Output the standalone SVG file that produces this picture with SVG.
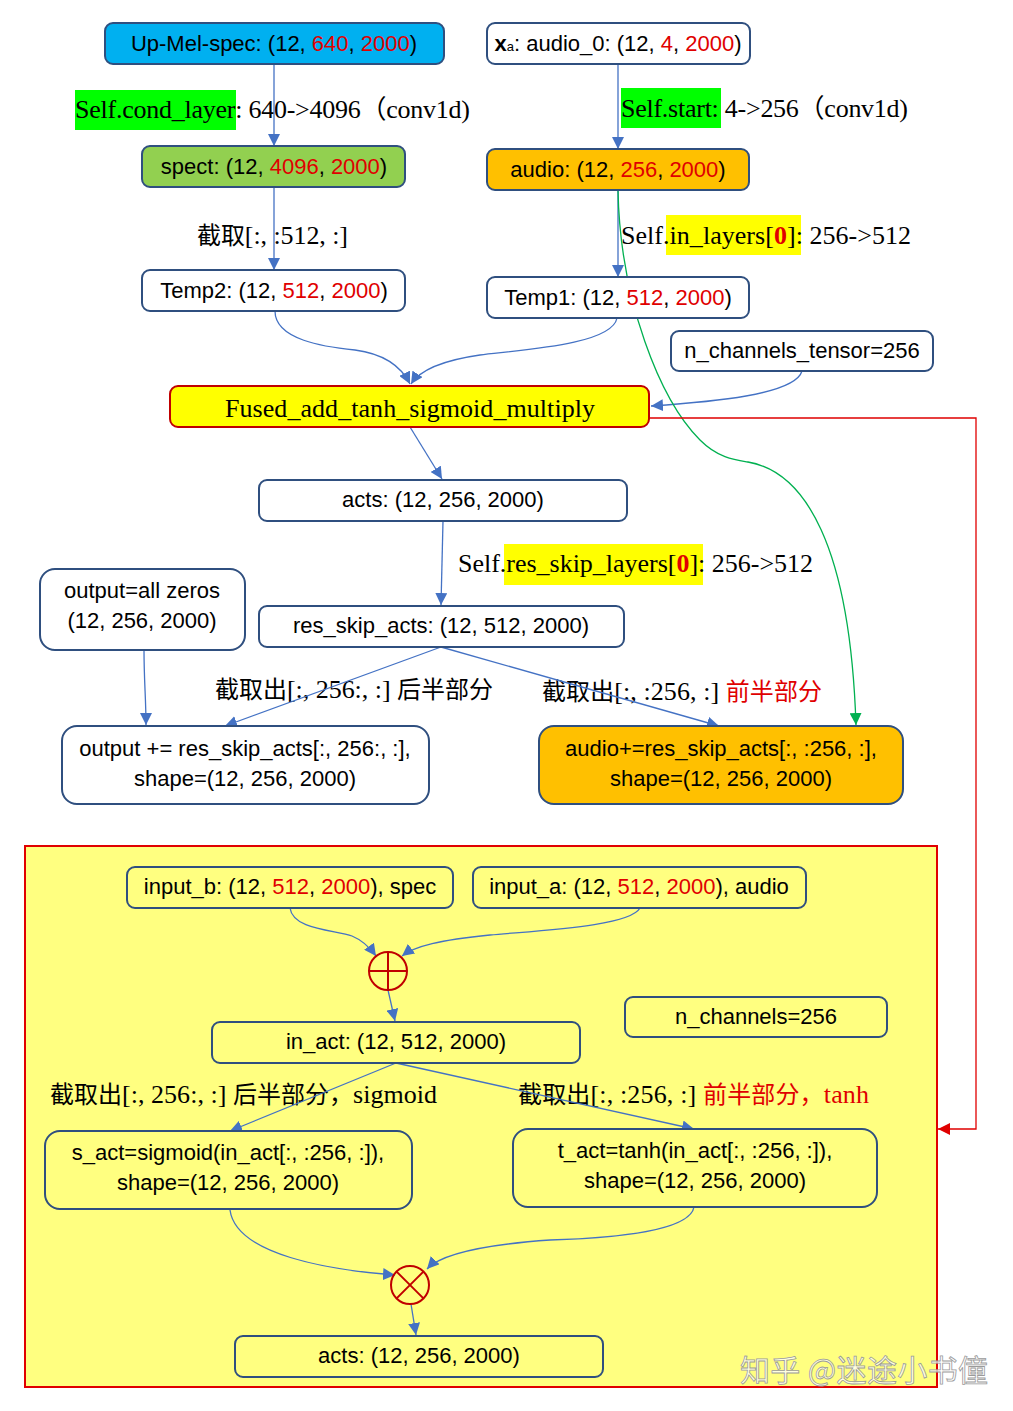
<svg xmlns="http://www.w3.org/2000/svg" width="1013" height="1411" viewBox="0 0 1013 1411">
<style>
.box{stroke:#2F4F7F;stroke-width:2;}
.w{fill:#ffffff;}
.t{font-family:"Liberation Sans",Arial,sans-serif;font-size:22px;fill:#000;}
.s{font-family:"Liberation Serif","Times New Roman","Noto Sans CJK SC",serif;font-size:26px;fill:#000;}
.c{font-family:"Liberation Serif","Noto Sans CJK SC",serif;font-size:26px;fill:#000;}
.k{font-family:"Noto Sans CJK SC",sans-serif;font-size:24px;}
.r{fill:#E00000;}
.conn{fill:none;stroke:#4472C4;stroke-width:1.3;}
.g{fill:none;stroke:#00B050;stroke-width:1.3;}
.red{fill:none;stroke:#E00000;stroke-width:1.3;}
.op{fill:none;stroke:#C00000;stroke-width:2;}
</style>
<defs>
<marker id="ab" viewBox="0 0 10 10" refX="10" refY="5" markerWidth="12" markerHeight="12" markerUnits="userSpaceOnUse" orient="auto"><path d="M0,0 L10,5 L0,10 z" fill="#4472C4"/></marker>
<marker id="ag" viewBox="0 0 10 10" refX="10" refY="5" markerWidth="12" markerHeight="12" markerUnits="userSpaceOnUse" orient="auto"><path d="M0,0 L10,5 L0,10 z" fill="#00B050"/></marker>
<marker id="ar" viewBox="0 0 10 10" refX="10" refY="5" markerWidth="12" markerHeight="12" markerUnits="userSpaceOnUse" orient="auto"><path d="M0,0 L10,5 L0,10 z" fill="#E00000"/></marker>
</defs>
<rect width="1013" height="1411" fill="#ffffff"/>

<!-- panel -->
<g id="panel">
<rect x="25" y="846" width="912" height="541" fill="#FFFF80" stroke="#E00000" stroke-width="2"/>
</g>

<!-- labels with highlights -->
<g id="labels">
<rect x="75" y="90" width="161" height="40" fill="#00FF00"/>
<text class="s" x="75" y="118" textLength="395" lengthAdjust="spacing">Self.cond_layer: 640-&gt;4096（conv1d)</text>
<rect x="621" y="88" width="100" height="40" fill="#00FF00"/>
<text class="s" x="621" y="117" textLength="287" lengthAdjust="spacing">Self.start: 4-&gt;256（conv1d)</text>
<text class="s" x="197" y="244" textLength="151" lengthAdjust="spacing"><tspan class="k">截取</tspan>[:, :512, :]</text>
<rect x="666" y="215" width="135" height="40" fill="#FFFF00"/>
<text class="s" x="621" y="244" textLength="290" lengthAdjust="spacing">Self.in_layers[<tspan fill="#E00000" font-weight="bold">0</tspan>]: 256-&gt;512</text>
<rect x="504" y="544" width="199" height="41" fill="#FFFF00"/>
<text class="s" x="458" y="572" textLength="355" lengthAdjust="spacing">Self.res_skip_layers[<tspan fill="#E00000" font-weight="bold">0</tspan>]: 256-&gt;512</text>
<text class="c" x="215" y="698" textLength="278" lengthAdjust="spacing"><tspan class="k">截取出</tspan>[:, 256:, :] <tspan class="k">后半部分</tspan></text>
<text class="c" x="542" y="700" textLength="280" lengthAdjust="spacing"><tspan class="k">截取出</tspan>[:, :256, :] <tspan class="k" fill="#E00000">前半部分</tspan></text>
<text class="c" x="50" y="1103" textLength="387" lengthAdjust="spacing"><tspan class="k">截取出</tspan>[:, 256:, :] <tspan class="k">后半部分，</tspan>sigmoid</text>
<text class="c" x="518" y="1103" textLength="351" lengthAdjust="spacing"><tspan class="k">截取出</tspan>[:, :256, :] <tspan fill="#E00000"><tspan class="k">前半部分，</tspan>tanh</tspan></text>
</g>

<!-- connectors -->
<g id="connectors">
<line class="conn" x1="274" y1="64" x2="274" y2="146" marker-end="url(#ab)"/>
<line class="conn" x1="274" y1="187" x2="274" y2="270" marker-end="url(#ab)"/>
<line class="conn" x1="618" y1="64" x2="618" y2="149" marker-end="url(#ab)"/>
<line class="conn" x1="618" y1="190" x2="618" y2="277" marker-end="url(#ab)"/>
<path class="conn" d="M275,311 C275,340 325,347 355,350 C385,354 402,368 410,384" marker-end="url(#ab)"/>
<path class="conn" d="M617,318 C612,345 520,350 480,355 C445,360 420,370 411,384" marker-end="url(#ab)"/>
<path class="conn" d="M802,371 C795,395 710,402 651,406" marker-end="url(#ab)"/>
<line class="conn" x1="410" y1="427" x2="442" y2="479" marker-end="url(#ab)"/>
<line class="conn" x1="443" y1="521" x2="441" y2="605" marker-end="url(#ab)"/>
<path class="conn" d="M144,650 C144,680 146,700 146,725" marker-end="url(#ab)"/>
<line class="conn" x1="441" y1="647" x2="225" y2="726" marker-end="url(#ab)"/>
<line class="conn" x1="441" y1="647" x2="719" y2="726" marker-end="url(#ab)"/>
<path class="g" d="M618,190 C620,300 660,400 700,440 C718,458 735,460 748,462 C805,472 850,545 856,725" marker-end="url(#ag)"/>
<polyline class="red" points="650,418 976,418 976,1129 938,1129" marker-end="url(#ar)"/>
<path class="conn" d="M290,908 C293,930 335,930 352,936 C364,941 371,949 376,956" marker-end="url(#ab)"/>
<path class="conn" d="M640,908 C630,926 545,930 490,935 C440,940 415,946 402,956" marker-end="url(#ab)"/>
<line class="conn" x1="388" y1="990" x2="395" y2="1021" marker-end="url(#ab)"/>
<line class="conn" x1="396" y1="1063" x2="230" y2="1131" marker-end="url(#ab)"/>
<line class="conn" x1="396" y1="1063" x2="694" y2="1129" marker-end="url(#ab)"/>
<path class="conn" d="M230,1210 C236,1255 330,1270 395,1275" marker-end="url(#ab)"/>
<path class="conn" d="M694,1207 C690,1230 620,1238 550,1240 C480,1245 440,1255 427,1269" marker-end="url(#ab)"/>
<line class="conn" x1="411" y1="1304" x2="416" y2="1335" marker-end="url(#ab)"/>
</g>

<!-- nodes -->
<g id="up-mel-spec">
<rect class="box" x="105" y="23" width="339" height="41" rx="8" fill="#00B0F0"/>
<text class="t" x="274" y="51" text-anchor="middle">Up-Mel-spec: (12, <tspan class="r">640</tspan>, <tspan class="r">2000</tspan>)</text>
</g>
<g id="xa">
<rect class="box w" x="487" y="23" width="263" height="41" rx="8"/>
<text class="t" x="618" y="51" text-anchor="middle"><tspan font-weight="bold">x</tspan><tspan font-size="13">a</tspan>: audio_0: (12, <tspan class="r">4</tspan>, <tspan class="r">2000</tspan>)</text>
</g>
<g id="spect">
<rect class="box" x="142" y="146" width="263" height="41" rx="8" fill="#92D050"/>
<text class="t" x="274" y="174" text-anchor="middle">spect: (12, <tspan class="r">4096</tspan>, <tspan class="r">2000</tspan>)</text>
</g>
<g id="audio">
<rect class="box" x="487" y="149" width="262" height="41" rx="8" fill="#FFC000"/>
<text class="t" x="618" y="177" text-anchor="middle">audio: (12, <tspan class="r">256</tspan>, <tspan class="r">2000</tspan>)</text>
</g>
<g id="temp2">
<rect class="box w" x="142" y="270" width="263" height="41" rx="8"/>
<text class="t" x="274" y="298" text-anchor="middle">Temp2: (12, <tspan class="r">512</tspan>, <tspan class="r">2000</tspan>)</text>
</g>
<g id="temp1">
<rect class="box w" x="487" y="277" width="262" height="41" rx="8"/>
<text class="t" x="618" y="305" text-anchor="middle">Temp1: (12, <tspan class="r">512</tspan>, <tspan class="r">2000</tspan>)</text>
</g>
<g id="n-channels-tensor">
<rect class="box w" x="671" y="331" width="262" height="40" rx="8"/>
<text class="t" x="802" y="358" text-anchor="middle">n_channels_tensor=256</text>
</g>
<g id="fused">
<rect x="170" y="386" width="479" height="41" rx="8" fill="#FFFF00" stroke="#C00000" stroke-width="2"/>
<text class="s" x="410" y="417" text-anchor="middle" textLength="370" lengthAdjust="spacing">Fused_add_tanh_sigmoid_multiply</text>
</g>
<g id="acts">
<rect class="box w" x="259" y="480" width="368" height="41" rx="8"/>
<text class="t" x="443" y="507" text-anchor="middle">acts: (12, 256, 2000)</text>
</g>
<g id="output-zeros">
<rect class="box w" x="40" y="569" width="205" height="81" rx="15"/>
<text class="t" x="142" y="598" text-anchor="middle">output=all zeros</text>
<text class="t" x="142" y="628" text-anchor="middle">(12, 256, 2000)</text>
</g>
<g id="res-skip-acts">
<rect class="box w" x="259" y="606" width="365" height="41" rx="8"/>
<text class="t" x="441" y="633" text-anchor="middle">res_skip_acts: (12, 512, 2000)</text>
</g>
<g id="output-add">
<rect class="box w" x="62" y="726" width="367" height="78" rx="15"/>
<text class="t" x="245" y="756" text-anchor="middle">output += res_skip_acts[:, 256:, :],</text>
<text class="t" x="245" y="786" text-anchor="middle">shape=(12, 256, 2000)</text>
</g>
<g id="audio-add">
<rect class="box" x="539" y="726" width="364" height="78" rx="15" fill="#FFC000"/>
<text class="t" x="721" y="756" text-anchor="middle">audio+=res_skip_acts[:, :256, :],</text>
<text class="t" x="721" y="786" text-anchor="middle">shape=(12, 256, 2000)</text>
</g>

<g id="input-b">
<rect class="box" x="127" y="867" width="326" height="41" rx="8" fill="#FFFF80"/>
<text class="t" x="290" y="894" text-anchor="middle">input_b: (12, <tspan class="r">512</tspan>, <tspan class="r">2000</tspan>), spec</text>
</g>
<g id="input-a">
<rect class="box" x="473" y="867" width="333" height="41" rx="8" fill="#FFFF80"/>
<text class="t" x="639" y="894" text-anchor="middle">input_a: (12, <tspan class="r">512</tspan>, <tspan class="r">2000</tspan>), audio</text>
</g>
<g id="plus">
<circle class="op" cx="388" cy="971" r="19"/>
<line class="op" x1="369" y1="971" x2="407" y2="971" stroke-width="1.3"/>
<line class="op" x1="388" y1="952" x2="388" y2="990" stroke-width="1.3"/>
</g>
<g id="n-channels">
<rect class="box" x="625" y="997" width="262" height="40" rx="8" fill="#FFFF80"/>
<text class="t" x="756" y="1024" text-anchor="middle">n_channels=256</text>
</g>
<g id="in-act">
<rect class="box" x="212" y="1022" width="368" height="41" rx="8" fill="#FFFF80"/>
<text class="t" x="396" y="1049" text-anchor="middle">in_act: (12, 512, 2000)</text>
</g>
<g id="s-act">
<rect class="box" x="45" y="1131" width="367" height="78" rx="15" fill="#FFFF80"/>
<text class="t" x="228" y="1160" text-anchor="middle">s_act=sigmoid(in_act[:, :256, :]),</text>
<text class="t" x="228" y="1190" text-anchor="middle">shape=(12, 256, 2000)</text>
</g>
<g id="t-act">
<rect class="box" x="513" y="1129" width="364" height="78" rx="15" fill="#FFFF80"/>
<text class="t" x="695" y="1158" text-anchor="middle">t_act=tanh(in_act[:, :256, :]),</text>
<text class="t" x="695" y="1188" text-anchor="middle">shape=(12, 256, 2000)</text>
</g>
<g id="times">
<circle class="op" cx="410" cy="1285" r="19"/>
<line class="op" x1="396.6" y1="1271.6" x2="423.4" y2="1298.4" stroke-width="1.3"/>
<line class="op" x1="423.4" y1="1271.6" x2="396.6" y2="1298.4" stroke-width="1.3"/>
</g>
<g id="acts-out">
<rect class="box" x="235" y="1336" width="368" height="41" rx="8" fill="#FFFF80"/>
<text class="t" x="419" y="1363" text-anchor="middle">acts: (12, 256, 2000)</text>
</g>

<g id="watermark">
<text x="740" y="1381" font-family="Noto Sans CJK SC,sans-serif" font-size="30" fill="#ffffff" fill-opacity="0.75" stroke="#9a9a9a" stroke-width="0.8" textLength="248" lengthAdjust="spacing">知乎 @迷途小书僮</text>
</g>
</svg>
